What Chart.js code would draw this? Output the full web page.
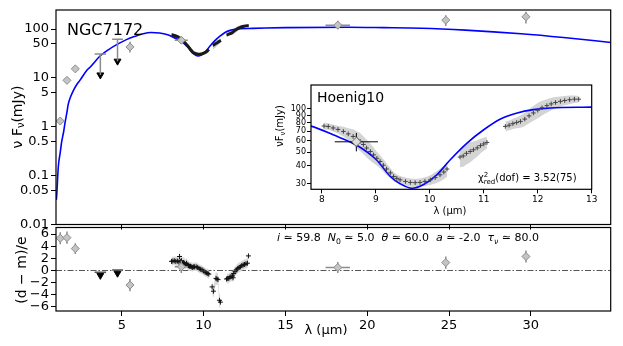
<!DOCTYPE html>
<html><head><meta charset="utf-8">
<script src="https://cdn.jsdelivr.net/npm/chart.js@4.4.0/dist/chart.umd.min.js"></script>
<style>
html,body{margin:0;padding:0;background:#fff;width:623px;height:346px;overflow:hidden}
canvas{position:absolute;left:0;top:0}
</style></head><body>
<canvas id="main" width="623" height="346"></canvas>
<canvas id="res" width="623" height="346"></canvas>
<canvas id="ins" width="623" height="346"></canvas>
<script>
// ================= DATA =================
const modelLam = [1.0, 1.02, 1.12, 1.24, 1.33, 1.45, 1.53, 1.65, 1.73, 1.86, 2.04, 2.27, 2.45, 2.88, 3.06, 3.67, 4.2, 4.74, 5.25, 5.76, 6.3, 6.78, 7.3, 7.8, 8.21, 8.64, 9.01, 9.27, 9.45, 9.67, 9.88, 10.13, 10.38, 10.69, 11.0, 11.31, 11.62, 11.92, 12.23, 13.0, 15.0, 18.8, 21.0, 23.3, 26.0, 29.4, 32.0, 34.9];
const modelF = [0.032, 0.038, 0.15, 0.3, 0.5, 0.8, 1.2, 2.0, 2.9, 4.0, 5.5, 7.5, 9.0, 14.5, 16.5, 28, 38, 49, 60, 70, 80, 85, 83, 76, 66, 56, 44.2, 33.8, 30.1, 28.0, 29.6, 34.7, 44.2, 57.8, 71.6, 85.1, 93.8, 98.9, 101.6, 103, 107, 109, 107, 104, 95, 80, 67, 53];

const specLam = [8.04, 8.12, 8.21, 8.30, 8.40, 8.49, 8.58, 8.65, 8.71, 8.77, 8.83, 8.90, 8.96, 9.02, 9.08, 9.14, 9.20, 9.27, 9.33, 9.39, 9.45, 9.55, 9.64, 9.73, 9.82, 9.91, 10.01, 10.10, 10.19, 10.26, 10.32, 10.44, 10.56, 10.62, 10.68, 10.75, 10.81, 10.88, 10.94, 11.00, 11.06, 11.2, 11.40, 11.47, 11.54, 11.61, 11.68, 11.76, 11.84, 11.92, 12.00, 12.08, 12.17, 12.25, 12.33, 12.42, 12.50, 12.59, 12.68, 12.76];
const specF = [76, 75.5, 73.7, 72, 69.7, 67, 64.3, 61.5, 59.4, 56.5, 53.4, 50.5, 47.8, 45.3, 43.0, 40.5, 38.1, 35.8, 33.8, 32.8, 32.0, 31.2, 30.7, 30.6, 30.7, 31.2, 32.0, 33.2, 34.7, 36.3, 38.1, null, 46.2, 47, 49, 50.5, 51.9, 53.5, 55.5, 57, 58.4, null, 75.6, 77, 79, 80.5, 81.9, 85, 89.5, 93.8, 98, 102, 105.5, 108.5, 111, 113, 114.5, 116, 117, 117];
const specErr = [4, 4, 4, 4.5, 5.5, 6.5, 8, 8.5, 8.5, 8, 7.5, 7, 6, 5, 4.5, 4, 3.5, 3, 2.5, 2.2, 2, 2, 2, 2, 2, 2.2, 2.5, 3, 3.5, 4, 4.5, null, 7, 7.5, 8, 8, 7.5, 7, 6.5, 6, 5.5, null, 6, 6, 6.5, 7, 8, 9, 10, 11, 12, 12, 11.5, 11, 10, 9, 8.5, 8, 7, 6];

const photLam = [1.24, 1.65, 2.16, 5.5, 8.64, 18.2, 24.8, 29.7];
const photF = [1.31, 8.9, 15.3, 43, 59, 120, 152, 178];
const photFLo = [1.2, 8.2, 14, 33, 50.6, 99, 115, 130];
const photFHi = [1.42, 9.7, 16.7, 55, 68, 147, 192, 225];
const photLamErr = [0, 0, 0, 0, 0.4, 0.75, 0, 0];

const ulLam = [3.69, 4.74];
const ulF = [30.8, 62];
const ulArrowEnd = [11.5, 22];
const ulLamErr = [0.35, 0.33];

const resPhotVal = [5.3, 5.4, 3.6, -2.4, 0.6, 0.5, 1.3, 2.3];
const resPhotErr = [1, 1, 0.9, 1, 1, 0.9, 1, 1];
const resUlVal = [-0.8, -0.45];
const resUlCap = [-0.3, 0.1];

const resLam = [8.04, 8.12, 8.21, 8.30, 8.40, 8.49, 8.53, 8.58, 8.65, 8.71, 8.77, 8.83, 8.90, 8.96, 9.02, 9.08, 9.14, 9.20, 9.27, 9.33, 9.39, 9.45, 9.55, 9.64, 9.73, 9.82, 9.91, 10.01, 10.10, 10.19, 10.26, 10.32, 10.44, 10.52, 10.60, 10.76, 10.82, 10.88, 10.97, 11.03, 11.2, 11.40, 11.47, 11.54, 11.61, 11.68, 11.76, 11.80, 11.84, 11.92, 12.00, 12.08, 12.17, 12.25, 12.33, 12.42, 12.50, 12.59, 12.68, 12.74];
const resVal = [1.5, 1.55, 1.6, 1.5, 1.55, 1.4, 2.3, 1.5, 1.6, 1.2, 1.3, 1.2, 1.0, 1.2, 0.9, 0.8, 0.7, 0.7, 0.6, 0.5, 0.6, 0.6, 0.6, 0.5, 0.3, 0.2, 0.1, -0.1, -0.3, -0.4, -0.5, -0.6, null, -2.7, -3.4, -1.3, -1.4, -1.5, -4.9, -5.2, null, -1.4, -1.3, -1.3, -1.1, -1.0, -0.9, -1.2, -0.5, -0.2, 0.1, 0.3, 0.5, 0.6, 0.8, 0.9, 1.0, 1.1, 1.2, 2.4];
const resErr = [0.7, 0.7, 0.7, 0.8, 0.8, 0.9, 0.9, 0.9, 0.9, 0.9, 0.9, 0.9, 0.8, 0.8, 0.8, 0.8, 0.7, 0.7, 0.7, 0.7, 0.7, 0.7, 0.7, 0.7, 0.7, 0.7, 0.7, 0.7, 0.7, 0.7, 0.8, 0.8, null, 1.0, 1.0, 1.0, 1.0, 1.0, 1.1, 1.1, null, 0.8, 0.8, 0.8, 0.8, 0.8, 0.8, 0.8, 0.8, 0.8, 0.8, 0.8, 0.8, 0.8, 0.8, 0.8, 0.8, 0.8, 0.8, 0.8];

const mainXTicks = [5, 10, 15, 20, 25, 30];
const mainXTickLabels = ['5', '10', '15', '20', '25', '30'];
const mainYTicks = [0.01, 0.05, 0.1, 0.5, 1, 5, 10, 50, 100];
const mainYTickLabels = ['0.01', '0.05', '0.1', '0.5', '1', '5', '10', '50', '100'];
const resYTicks = [-6, -4, -2, 0, 2, 4, 6];
const resYTickLabels = ['\u22126', '\u22124', '\u22122', '0', '2', '4', '6'];
const insXTicks = [8, 9, 10, 11, 12, 13];
const insXTickLabels = ['8', '9', '10', '11', '12', '13'];
const insYTicks = [30, 40, 50, 60, 70, 80, 90, 100];
const insYTickLabels = ['30', '40', '50', '60', '70', '80', '90', '100'];

// ================= HELPERS =================
const FAM = "'DejaVu Sans', sans-serif";
Chart.defaults.font.family = FAM;
Chart.defaults.color = '#000';

function pts(xs, ys) { const o = []; xs.forEach((x, i) => { if (ys[i] != null) o.push({x: x, y: ys[i]}); }); return o; }
function segments(xs, ys, es) {
  const segs = []; let cur = null;
  xs.forEach((x, i) => {
    if (ys[i] == null) { cur = null; return; }
    if (!cur) { cur = {x: [], y: [], e: []}; segs.push(cur); }
    cur.x.push(x); cur.y.push(ys[i]); cur.e.push(es ? es[i] : 0);
  });
  return segs;
}
function bands(segs, color, order) {
  const out = [];
  segs.forEach(s => {
    out.push({data: s.x.map((x, i) => ({x: x, y: s.y[i] + s.e[i]})), borderWidth: 0, borderColor: 'transparent', pointRadius: 0, fill: '+1', backgroundColor: color, order: order, cubicInterpolationMode: 'monotone'});
    out.push({data: s.x.map((x, i) => ({x: x, y: s.y[i] - s.e[i]})), borderWidth: 0, borderColor: 'transparent', pointRadius: 0, fill: false, order: order, cubicInterpolationMode: 'monotone'});
  });
  return out;
}
function fixedTicks(vals) { return s => { s.ticks = vals.map(v => ({value: v})); }; }
function labelFor(vals, labels) { return v => { const i = vals.findIndex(t => Math.abs(t - v) < 1e-9); return i >= 0 ? labels[i] : ''; }; }
function gridCfg() { return {drawOnChartArea: false, drawTicks: true, tickLength: 5, color: '#000', tickWidth: 1}; }

function drawRich(ctx, x, y, segs, size, align, rot, baseline) {
  ctx.save();
  ctx.fillStyle = '#000';
  const fontFor = s => (s.it ? 'italic ' : '') + ((s.sub || s.sup) ? size * 0.7 : size) + 'px ' + FAM;
  let w = 0;
  segs.forEach(s => { ctx.font = fontFor(s); if (!s.na) w += ctx.measureText(s.t).width; });
  ctx.translate(x, y);
  if (rot) ctx.rotate(-Math.PI / 2);
  let cx = align === 'center' ? -w / 2 : (align === 'right' ? -w : 0);
  ctx.textBaseline = baseline || 'alphabetic';
  ctx.textAlign = 'left';
  segs.forEach(s => {
    ctx.font = fontFor(s);
    const dy = s.sub ? size * 0.28 : (s.sup ? -size * 0.4 : 0);
    ctx.fillText(s.t, cx, dy);
    if (!s.na) cx += ctx.measureText(s.t).width;
  });
  ctx.restore();
}
function seg(ctx, x1, y1, x2, y2) { ctx.beginPath(); ctx.moveTo(x1, y1); ctx.lineTo(x2, y2); ctx.stroke(); }
function clipArea(ctx, a) { ctx.beginPath(); ctx.rect(a.left, a.top, a.right - a.left, a.bottom - a.top); ctx.clip(); }
const frame = {id: 'frame', afterDraw(chart) { const a = chart.chartArea, c = chart.ctx; c.save(); c.strokeStyle = '#000'; c.lineWidth = 1.2; c.strokeRect(a.left, a.top, a.right - a.left, a.bottom - a.top); c.restore(); }};

function baseOpts(pad, x, y) {
  return {responsive: false, animation: false, devicePixelRatio: 1,
    layout: {padding: pad},
    plugins: {legend: {display: false}, tooltip: {enabled: false}},
    elements: {line: {tension: 0}},
    scales: {x: x, y: y}};
}

const diamond = (data, r, bg, bc, ord) => ({data: data, showLine: false, pointStyle: 'rectRot', pointRadius: r, backgroundColor: bg, borderColor: bc, borderWidth: 1, order: ord, _role: 'phot'});

// ================= MAIN PANEL =================
const specSegs = segments(specLam, specF, specErr);
const mainDatasets = [].concat(
  [diamond(pts(photLam, photF), 4, '#c4c4c4', '#8c8c8c', 0)],
  [{data: pts(ulLam, ulArrowEnd), showLine: false, pointStyle: 'triangle', rotation: 180, pointRadius: 4, backgroundColor: '#000', borderColor: '#000', borderWidth: 1, order: 0}],
  specSegs.map(s => ({data: pts(s.x, s.y), borderColor: '#1a1a1a', borderWidth: 3, pointRadius: 0, fill: false, order: 1})),
  [{data: pts(modelLam, modelF), borderColor: '#0000ff', borderWidth: 1.6, pointRadius: 0, fill: false, order: 3, cubicInterpolationMode: 'monotone'}],
  bands(specSegs, '#cfcfcf', 10)
);
new Chart(document.getElementById('main'), {
  type: 'line',
  data: {datasets: mainDatasets},
  options: baseOpts({left: 0, top: 10, right: 12.3, bottom: 0},
    {type: 'linear', min: 0.98, max: 34.88, afterBuildTicks: fixedTicks(mainXTicks),
     ticks: {display: false, autoSkip: false, callback: labelFor(mainXTicks, mainXTickLabels)}, grid: gridCfg(), border: {display: false},
     afterFit: s => { s.height = 346 - 224.5; }},
    {type: 'logarithmic', min: 0.01, max: 245, afterBuildTicks: fixedTicks(mainYTicks),
     ticks: {autoSkip: false, font: {size: 13}, padding: 2, callback: labelFor(mainYTicks, mainYTickLabels)}, grid: gridCfg(), border: {display: false},
     afterFit: s => { s.width = 56; }}),
  plugins: [frame, {
    id: 'mainExtras',
    beforeDatasetDraw(chart, args) {
      const ds = chart.data.datasets[args.index];
      if (ds._role !== 'phot') return;
      const c = chart.ctx, sx = chart.scales.x, sy = chart.scales.y;
      c.save(); clipArea(c, chart.chartArea);
      c.strokeStyle = '#8c8c8c'; c.lineWidth = 1.5;
      photLam.forEach((l, i) => {
        const px = sx.getPixelForValue(l);
        seg(c, px, sy.getPixelForValue(photFLo[i]), px, sy.getPixelForValue(photFHi[i]));
        if (photLamErr[i] > 0) { const py = sy.getPixelForValue(photF[i]); seg(c, sx.getPixelForValue(l - photLamErr[i]), py, sx.getPixelForValue(l + photLamErr[i]), py); }
      });
      ulLam.forEach((l, i) => {
        const px = sx.getPixelForValue(l), py = sy.getPixelForValue(ulF[i]);
        seg(c, px, py, px, sy.getPixelForValue(ulArrowEnd[i]));
        seg(c, sx.getPixelForValue(l - ulLamErr[i]), py, sx.getPixelForValue(l + ulLamErr[i]), py);
      });
      c.restore();
    },
    afterDraw(chart) {
      const c = chart.ctx;
      drawRich(c, 67, 35, [{t: 'NGC7172'}], 16, 'left', false, 'alphabetic');
      drawRich(c, 18, 117, [{t: '\u03bd F'}, {t: '\u03bd', sub: true}, {t: '(mJy)'}], 14, 'center', true, 'middle');
    }
  }]
});

// ================= RESIDUAL PANEL =================
const resSegs = segments(resLam, resVal, resErr);
const resDatasets = [].concat(
  [diamond(pts(photLam, resPhotVal), 4, '#c4c4c4', '#8c8c8c', 0)],
  [{data: pts(ulLam, resUlVal), showLine: false, pointStyle: 'triangle', rotation: 180, pointRadius: 4, backgroundColor: '#000', borderColor: '#000', borderWidth: 1, order: 0}],
  [{data: pts(resLam, resVal), showLine: false, pointStyle: 'cross', pointRadius: 2.5, borderColor: '#111', borderWidth: 1, order: 1}],
  bands(resSegs, '#dadada', 10)
);
new Chart(document.getElementById('res'), {
  type: 'line',
  data: {datasets: resDatasets},
  options: baseOpts({left: 0, top: 227.5, right: 12.3, bottom: 0},
    {type: 'linear', min: 0.98, max: 34.88, afterBuildTicks: fixedTicks(mainXTicks),
     ticks: {autoSkip: false, maxRotation: 0, font: {size: 13}, padding: 2, callback: labelFor(mainXTicks, mainXTickLabels)}, grid: gridCfg(), border: {display: false},
     afterFit: s => { s.height = 346 - 311; }},
    {type: 'linear', min: -6.66, max: 7.07, afterBuildTicks: fixedTicks(resYTicks),
     ticks: {autoSkip: false, font: {size: 13}, padding: 2, callback: labelFor(resYTicks, resYTickLabels)}, grid: gridCfg(), border: {display: false},
     afterFit: s => { s.width = 56; }}),
  plugins: [frame, {
    id: 'resExtras',
    beforeDatasetsDraw(chart) {
      const c = chart.ctx, a = chart.chartArea, y0 = chart.scales.y.getPixelForValue(0);
      c.save(); c.strokeStyle = '#555'; c.lineWidth = 1; c.setLineDash([6, 2, 1.5, 2]);
      seg(c, a.left, y0, a.right, y0); c.restore();
    },
    beforeDatasetDraw(chart, args) {
      const ds = chart.data.datasets[args.index];
      if (ds._role !== 'phot') return;
      const c = chart.ctx, sx = chart.scales.x, sy = chart.scales.y;
      c.save(); clipArea(c, chart.chartArea);
      c.strokeStyle = '#8c8c8c'; c.lineWidth = 1.5;
      photLam.forEach((l, i) => {
        const px = sx.getPixelForValue(l);
        seg(c, px, sy.getPixelForValue(resPhotVal[i] - resPhotErr[i]), px, sy.getPixelForValue(resPhotVal[i] + resPhotErr[i]));
        if (photLamErr[i] > 0) { const py = sy.getPixelForValue(resPhotVal[i]); seg(c, sx.getPixelForValue(l - photLamErr[i]), py, sx.getPixelForValue(l + photLamErr[i]), py); }
      });
      c.strokeStyle = '#555';
      ulLam.forEach((l, i) => {
        const py = sy.getPixelForValue(resUlCap[i]);
        seg(c, sx.getPixelForValue(l - ulLamErr[i]), py, sx.getPixelForValue(l + ulLamErr[i]), py);
      });
      c.restore();
    },
    afterDraw(chart) {
      const c = chart.ctx;
      drawRich(c, 22, 270, [{t: '(d \u2212 m)/e'}], 14, 'center', true, 'middle');
      drawRich(c, 326, 331, [{t: '\u03bb (\u03bcm)'}], 13, 'center', false, 'middle');
      drawRich(c, 277, 241, [
        {t: 'i', it: true}, {t: ' \u2243 59.8  '},
        {t: 'N', it: true}, {t: '0', sub: true}, {t: ' \u2243 5.0  '},
        {t: '\u03b8', it: true}, {t: ' \u2243 60.0  '},
        {t: 'a', it: true}, {t: ' \u2243 -2.0  '},
        {t: '\u03c4', it: true}, {t: '\u03bd', it: true, sub: true}, {t: ' \u2243 80.0'}
      ], 11, 'left', false, 'alphabetic');
    }
  }]
});

// ================= INSET =================
const insDatasets = [].concat(
  [diamond(pts(photLam, photF), 4.5, '#dcdcdc', '#777', 0)],
  [{data: pts(specLam, specF), showLine: false, pointStyle: 'cross', pointRadius: 2.3, borderColor: '#444', borderWidth: 1, order: 1}],
  [{data: pts(modelLam, modelF), borderColor: '#0000ff', borderWidth: 1.6, pointRadius: 0, fill: false, order: 3, cubicInterpolationMode: 'monotone'}],
  bands(specSegs, '#d4d4d4', 10)
);
new Chart(document.getElementById('ins'), {
  type: 'line',
  data: {datasets: insDatasets},
  options: baseOpts({left: 0, top: 85, right: 31.3, bottom: 0},
    {type: 'linear', min: 7.8, max: 13, afterBuildTicks: fixedTicks(insXTicks),
     ticks: {autoSkip: false, maxRotation: 0, font: {size: 9}, padding: 1, callback: labelFor(insXTicks, insXTickLabels)},
     grid: Object.assign(gridCfg(), {tickLength: 4}), border: {display: false},
     afterFit: s => { s.height = 346 - 189.3; }},
    {type: 'logarithmic', min: 27.5, max: 147, afterBuildTicks: fixedTicks(insYTicks),
     ticks: {autoSkip: false, font: {size: 8}, padding: 1, callback: labelFor(insYTicks, insYTickLabels)},
     grid: Object.assign(gridCfg(), {tickLength: 4}), border: {display: false},
     afterFit: s => { s.width = 311; }}),
  plugins: [frame, {
    id: 'insExtras',
    beforeDraw(chart) {
      const a = chart.chartArea, c = chart.ctx;
      c.save(); c.fillStyle = '#fff'; c.fillRect(a.left, a.top, a.right - a.left, a.bottom - a.top); c.restore();
    },
    beforeDatasetDraw(chart, args) {
      const ds = chart.data.datasets[args.index];
      if (ds._role !== 'phot') return;
      const c = chart.ctx, sx = chart.scales.x, sy = chart.scales.y;
      c.save(); clipArea(c, chart.chartArea);
      c.strokeStyle = '#000'; c.lineWidth = 1;
      photLam.forEach((l, i) => {
        const px = sx.getPixelForValue(l);
        seg(c, px, sy.getPixelForValue(photFLo[i]), px, sy.getPixelForValue(photFHi[i]));
        if (photLamErr[i] > 0) { const py = sy.getPixelForValue(photF[i]); seg(c, sx.getPixelForValue(l - photLamErr[i]), py, sx.getPixelForValue(l + photLamErr[i]), py); }
      });
      c.restore();
    },
    afterDraw(chart) {
      const c = chart.ctx;
      drawRich(c, 317, 101.7, [{t: 'Hoenig10'}], 14, 'left', false, 'alphabetic');
      drawRich(c, 478, 180.7, [{t: '\u03c7'}, {t: '2', sup: true, na: true}, {t: 'red', sub: true}, {t: '(dof) = 3.52(75)'}], 10, 'left', false, 'alphabetic');
      drawRich(c, 280, 126, [{t: '\u03bdF'}, {t: '\u03bd', sub: true}, {t: '(mJy)'}], 10, 'center', true, 'middle');
      drawRich(c, 450, 211, [{t: '\u03bb (\u03bcm)'}], 10, 'center', false, 'middle');
    }
  }]
});
</script>
</body></html>
